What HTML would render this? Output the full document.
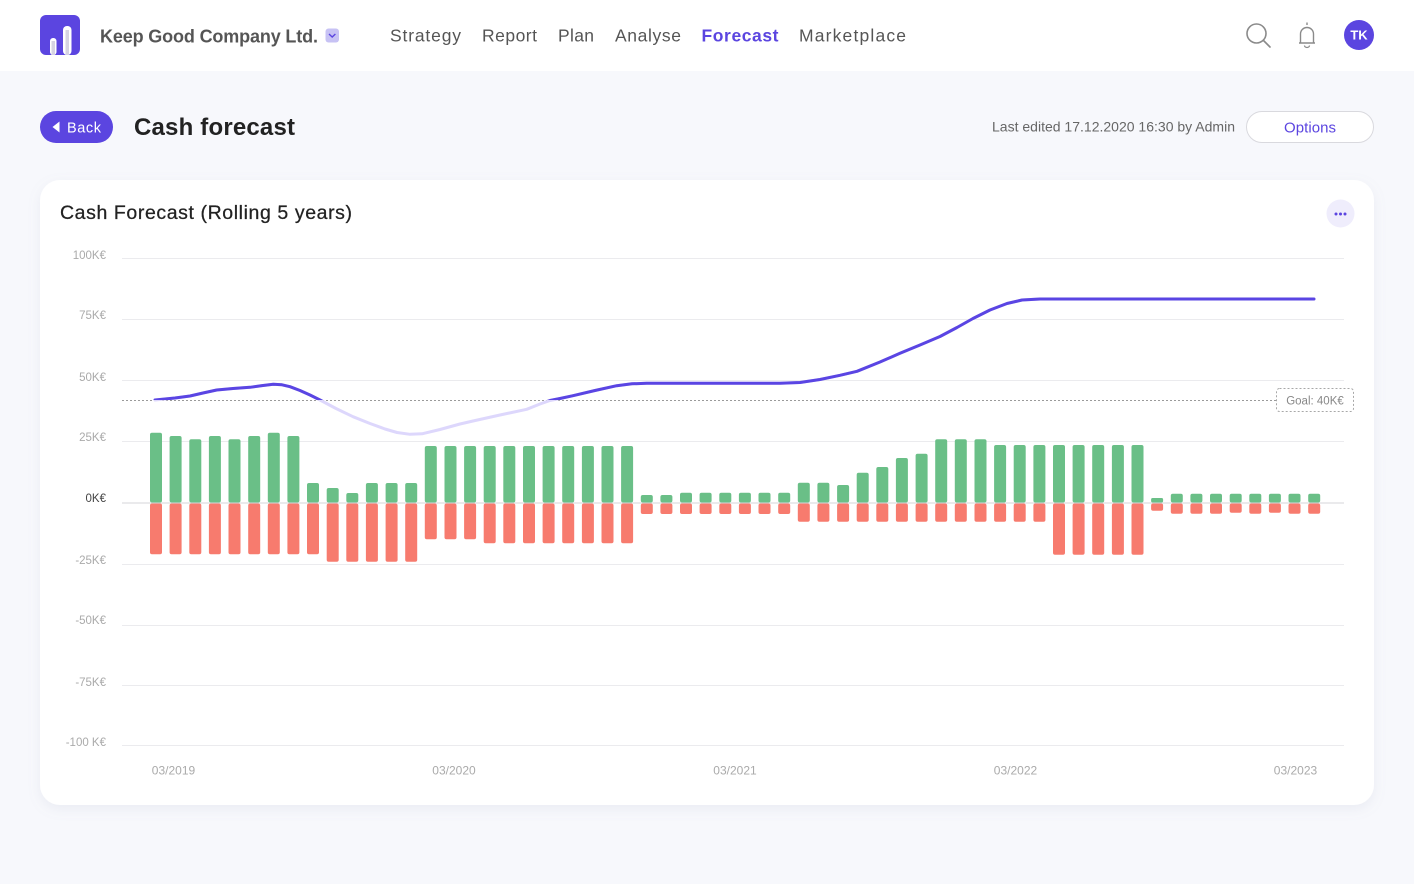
<!DOCTYPE html>
<html><head><meta charset="utf-8"><style>
html,body{margin:0;padding:0;width:1414px;height:884px;overflow:hidden;background:#f7f8fc;}
svg{display:block;font-family:"Liberation Sans",sans-serif;}
</style></head><body>
<svg width="1414" height="884" viewBox="0 0 1414 884" xmlns="http://www.w3.org/2000/svg">
<defs>
<filter id="sh" x="-5%" y="-5%" width="110%" height="115%"><feDropShadow dx="0" dy="4" stdDeviation="6" flood-color="#8a8fb5" flood-opacity="0.12"/></filter>
<clipPath id="above"><rect x="0" y="0" width="1414" height="400"/></clipPath>
</defs>
<rect x="0" y="0" width="1414" height="884" fill="#f7f8fc"/>
<rect x="0" y="0" width="1414" height="71" fill="#ffffff"/>
<rect x="40" y="15" width="40" height="40" rx="6" fill="#5b45e0"/>
<rect x="50" y="38" width="6.5" height="17" rx="3" fill="#ffffff"/>
<rect x="63" y="26" width="8.5" height="29" rx="4" fill="#ffffff"/>
<rect x="51.5" y="41" width="3.5" height="14" fill="#d6d4e2"/>
<rect x="65.5" y="30" width="3.5" height="25" fill="#d6d4e2"/>
<text x="100" y="42.3" font-size="18" font-weight="bold" fill="#555" textLength="218">Keep Good Company Ltd.</text>
<rect x="325.5" y="28.5" width="13.5" height="14" rx="3" fill="#c7c2f4"/>
<path d="M329 34 l3.2 3 l3.2 -3" fill="none" stroke="#5b45e0" stroke-width="1.4"/>
<g font-size="17.5" fill="#555">
<text x="390" y="41.5" textLength="71">Strategy</text>
<text x="482" y="41.5" textLength="55">Report</text>
<text x="558" y="41.5" textLength="36">Plan</text>
<text x="615" y="41.5" textLength="66">Analyse</text>
<text x="701.5" y="41.5" textLength="77" font-weight="bold" fill="#5b45e0">Forecast</text>
<text x="799" y="41.5" textLength="107">Marketplace</text>
</g>
<circle cx="1256.5" cy="33.5" r="9.5" fill="none" stroke="#8a8a8a" stroke-width="1.6"/>
<path d="M1263.5 40.5 L1270 47" stroke="#8a8a8a" stroke-width="1.6" stroke-linecap="round"/>
<path d="M1299 43 h16 M1300.5 43 v-9 a6.5 6.5 0 0 1 13 0 v9" fill="none" stroke="#8a8a8a" stroke-width="1.4"/>
<path d="M1307 22.5 v2.5" stroke="#8a8a8a" stroke-width="1.4"/>
<path d="M1304.5 45.5 a2.5 2 0 0 0 5 0" fill="none" stroke="#8a8a8a" stroke-width="1.3"/>
<circle cx="1359" cy="35" r="15" fill="#5b45e0"/>
<text x="1359" y="39.5" font-size="13" font-weight="bold" fill="#fff" text-anchor="middle">TK</text>
<rect x="40" y="111" width="73" height="32" rx="16" fill="#5b45e0"/>
<path d="M52.5 127 L59.5 121.5 V132.5 Z" fill="#fff"/>
<text x="67" y="132.7" font-size="14.5" fill="#fff" textLength="34">Back</text>
<text x="134" y="135" font-size="24" font-weight="bold" fill="#222" textLength="161">Cash forecast</text>
<text x="992" y="131.7" font-size="14" fill="#666" textLength="243">Last edited 17.12.2020 16:30 by Admin</text>
<rect x="1246.5" y="111.5" width="127" height="31" rx="15.5" fill="#fff" stroke="#d9d9de"/>
<text x="1284" y="132.3" font-size="15" fill="#5b45e0" textLength="52">Options</text>
<rect x="40" y="180" width="1334" height="625" rx="20" fill="#fff" filter="url(#sh)"/>
<text x="60" y="219" font-size="19.5" fill="#222" stroke="#222" stroke-width="0.25" textLength="292">Cash Forecast (Rolling 5 years)</text>
<circle cx="1340.5" cy="213.5" r="14" fill="#efedfc"/>
<circle cx="1336" cy="214" r="1.5" fill="#5b45e0"/>
<circle cx="1340.5" cy="214" r="1.5" fill="#5b45e0"/>
<circle cx="1345" cy="214" r="1.5" fill="#5b45e0"/>
<g stroke="#ebebee" stroke-width="1">
<line x1="122" y1="258.5" x2="1344" y2="258.5"/>
<line x1="122" y1="319.5" x2="1344" y2="319.5"/>
<line x1="122" y1="380.5" x2="1344" y2="380.5"/>
<line x1="122" y1="441.5" x2="1344" y2="441.5"/>
<line x1="122" y1="564.5" x2="1344" y2="564.5"/>
<line x1="122" y1="625.5" x2="1344" y2="625.5"/>
<line x1="122" y1="685.5" x2="1344" y2="685.5"/>
<line x1="122" y1="745.5" x2="1344" y2="745.5"/>
</g>
<g font-size="11.5" fill="#aaa" text-anchor="end">
<text x="106" y="259">100K€</text>
<text x="106" y="319">75K€</text>
<text x="106" y="381">50K€</text>
<text x="106" y="441">25K€</text>
<text x="106" y="502" fill="#444">0K€</text>
<text x="106" y="564">-25K€</text>
<text x="106" y="624">-50K€</text>
<text x="106" y="686">-75K€</text>
<text x="106" y="746">-100 K€</text>
</g>
<g font-size="12" fill="#aaa" text-anchor="middle">
<text x="173.5" y="774.5">03/2019</text>
<text x="454" y="774.5">03/2020</text>
<text x="735" y="774.5">03/2021</text>
<text x="1015.5" y="774.5">03/2022</text>
<text x="1295.5" y="774.5">03/2023</text>
</g>
<g fill="#6abf87">
<rect x="150" y="432.7" width="12" height="69.8" rx="2"/>
<rect x="169.6" y="436" width="12" height="66.5" rx="2"/>
<rect x="189.3" y="439.3" width="12" height="63.2" rx="2"/>
<rect x="208.9" y="436" width="12" height="66.5" rx="2"/>
<rect x="228.5" y="439.3" width="12" height="63.2" rx="2"/>
<rect x="248.2" y="436" width="12" height="66.5" rx="2"/>
<rect x="267.8" y="432.7" width="12" height="69.8" rx="2"/>
<rect x="287.4" y="436" width="12" height="66.5" rx="2"/>
<rect x="307" y="483" width="12" height="19.5" rx="2"/>
<rect x="326.7" y="488" width="12" height="14.5" rx="2"/>
<rect x="346.3" y="493" width="12" height="9.5" rx="2"/>
<rect x="365.9" y="483" width="12" height="19.5" rx="2"/>
<rect x="385.6" y="483" width="12" height="19.5" rx="2"/>
<rect x="405.2" y="483" width="12" height="19.5" rx="2"/>
<rect x="424.8" y="446" width="12" height="56.5" rx="2"/>
<rect x="444.5" y="446" width="12" height="56.5" rx="2"/>
<rect x="464.1" y="446" width="12" height="56.5" rx="2"/>
<rect x="483.7" y="446" width="12" height="56.5" rx="2"/>
<rect x="503.3" y="446" width="12" height="56.5" rx="2"/>
<rect x="523" y="446" width="12" height="56.5" rx="2"/>
<rect x="542.6" y="446" width="12" height="56.5" rx="2"/>
<rect x="562.2" y="446" width="12" height="56.5" rx="2"/>
<rect x="581.9" y="446" width="12" height="56.5" rx="2"/>
<rect x="601.5" y="446" width="12" height="56.5" rx="2"/>
<rect x="621.1" y="446" width="12" height="56.5" rx="2"/>
<rect x="640.8" y="495" width="12" height="7.5" rx="2"/>
<rect x="660.4" y="495" width="12" height="7.5" rx="2"/>
<rect x="680" y="492.7" width="12" height="9.8" rx="2"/>
<rect x="699.6" y="492.7" width="12" height="9.8" rx="2"/>
<rect x="719.3" y="492.7" width="12" height="9.8" rx="2"/>
<rect x="738.9" y="492.7" width="12" height="9.8" rx="2"/>
<rect x="758.5" y="492.7" width="12" height="9.8" rx="2"/>
<rect x="778.2" y="492.7" width="12" height="9.8" rx="2"/>
<rect x="797.8" y="482.7" width="12" height="19.8" rx="2"/>
<rect x="817.4" y="482.7" width="12" height="19.8" rx="2"/>
<rect x="837.1" y="485" width="12" height="17.5" rx="2"/>
<rect x="856.7" y="472.7" width="12" height="29.8" rx="2"/>
<rect x="876.3" y="467" width="12" height="35.5" rx="2"/>
<rect x="895.9" y="458" width="12" height="44.5" rx="2"/>
<rect x="915.6" y="453.7" width="12" height="48.8" rx="2"/>
<rect x="935.2" y="439.3" width="12" height="63.2" rx="2"/>
<rect x="954.8" y="439.3" width="12" height="63.2" rx="2"/>
<rect x="974.5" y="439.3" width="12" height="63.2" rx="2"/>
<rect x="994.1" y="445" width="12" height="57.5" rx="2"/>
<rect x="1013.7" y="445" width="12" height="57.5" rx="2"/>
<rect x="1033.4" y="445" width="12" height="57.5" rx="2"/>
<rect x="1053" y="445" width="12" height="57.5" rx="2"/>
<rect x="1072.6" y="445" width="12" height="57.5" rx="2"/>
<rect x="1092.2" y="445" width="12" height="57.5" rx="2"/>
<rect x="1111.9" y="445" width="12" height="57.5" rx="2"/>
<rect x="1131.5" y="445" width="12" height="57.5" rx="2"/>
<rect x="1151.1" y="498" width="12" height="4.5" rx="1.5"/>
<rect x="1170.8" y="493.7" width="12" height="8.8" rx="2"/>
<rect x="1190.4" y="493.7" width="12" height="8.8" rx="2"/>
<rect x="1210" y="493.7" width="12" height="8.8" rx="2"/>
<rect x="1229.7" y="493.7" width="12" height="8.8" rx="2"/>
<rect x="1249.3" y="493.7" width="12" height="8.8" rx="2"/>
<rect x="1268.9" y="493.7" width="12" height="8.8" rx="2"/>
<rect x="1288.5" y="493.7" width="12" height="8.8" rx="2"/>
<rect x="1308.2" y="493.7" width="12" height="8.8" rx="2"/>
</g>
<g fill="#f77b6e">
<rect x="150" y="503.5" width="12" height="50.8" rx="2"/>
<rect x="169.6" y="503.5" width="12" height="50.8" rx="2"/>
<rect x="189.3" y="503.5" width="12" height="50.8" rx="2"/>
<rect x="208.9" y="503.5" width="12" height="50.8" rx="2"/>
<rect x="228.5" y="503.5" width="12" height="50.8" rx="2"/>
<rect x="248.2" y="503.5" width="12" height="50.8" rx="2"/>
<rect x="267.8" y="503.5" width="12" height="50.8" rx="2"/>
<rect x="287.4" y="503.5" width="12" height="50.8" rx="2"/>
<rect x="307" y="503.5" width="12" height="50.8" rx="2"/>
<rect x="326.7" y="503.5" width="12" height="58.2" rx="2"/>
<rect x="346.3" y="503.5" width="12" height="58.2" rx="2"/>
<rect x="365.9" y="503.5" width="12" height="58.2" rx="2"/>
<rect x="385.6" y="503.5" width="12" height="58.2" rx="2"/>
<rect x="405.2" y="503.5" width="12" height="58.2" rx="2"/>
<rect x="424.8" y="503.5" width="12" height="35.8" rx="2"/>
<rect x="444.5" y="503.5" width="12" height="35.8" rx="2"/>
<rect x="464.1" y="503.5" width="12" height="35.8" rx="2"/>
<rect x="483.7" y="503.5" width="12" height="39.8" rx="2"/>
<rect x="503.3" y="503.5" width="12" height="39.8" rx="2"/>
<rect x="523" y="503.5" width="12" height="39.8" rx="2"/>
<rect x="542.6" y="503.5" width="12" height="39.8" rx="2"/>
<rect x="562.2" y="503.5" width="12" height="39.8" rx="2"/>
<rect x="581.9" y="503.5" width="12" height="39.8" rx="2"/>
<rect x="601.5" y="503.5" width="12" height="39.8" rx="2"/>
<rect x="621.1" y="503.5" width="12" height="39.8" rx="2"/>
<rect x="640.8" y="503.5" width="12" height="10.5" rx="2"/>
<rect x="660.4" y="503.5" width="12" height="10.5" rx="2"/>
<rect x="680" y="503.5" width="12" height="10.5" rx="2"/>
<rect x="699.6" y="503.5" width="12" height="10.5" rx="2"/>
<rect x="719.3" y="503.5" width="12" height="10.5" rx="2"/>
<rect x="738.9" y="503.5" width="12" height="10.5" rx="2"/>
<rect x="758.5" y="503.5" width="12" height="10.5" rx="2"/>
<rect x="778.2" y="503.5" width="12" height="10.5" rx="2"/>
<rect x="797.8" y="503.5" width="12" height="18.2" rx="2"/>
<rect x="817.4" y="503.5" width="12" height="18.2" rx="2"/>
<rect x="837.1" y="503.5" width="12" height="18.2" rx="2"/>
<rect x="856.7" y="503.5" width="12" height="18.2" rx="2"/>
<rect x="876.3" y="503.5" width="12" height="18.2" rx="2"/>
<rect x="895.9" y="503.5" width="12" height="18.2" rx="2"/>
<rect x="915.6" y="503.5" width="12" height="18.2" rx="2"/>
<rect x="935.2" y="503.5" width="12" height="18.2" rx="2"/>
<rect x="954.8" y="503.5" width="12" height="18.2" rx="2"/>
<rect x="974.5" y="503.5" width="12" height="18.2" rx="2"/>
<rect x="994.1" y="503.5" width="12" height="18.2" rx="2"/>
<rect x="1013.7" y="503.5" width="12" height="18.2" rx="2"/>
<rect x="1033.4" y="503.5" width="12" height="18.2" rx="2"/>
<rect x="1053" y="503.5" width="12" height="51.2" rx="2"/>
<rect x="1072.6" y="503.5" width="12" height="51.2" rx="2"/>
<rect x="1092.2" y="503.5" width="12" height="51.2" rx="2"/>
<rect x="1111.9" y="503.5" width="12" height="51.2" rx="2"/>
<rect x="1131.5" y="503.5" width="12" height="51.2" rx="2"/>
<rect x="1151.1" y="503.5" width="12" height="7.2" rx="2"/>
<rect x="1170.8" y="503.5" width="12" height="10.2" rx="2"/>
<rect x="1190.4" y="503.5" width="12" height="10.2" rx="2"/>
<rect x="1210" y="503.5" width="12" height="10.2" rx="2"/>
<rect x="1229.7" y="503.5" width="12" height="9.2" rx="2"/>
<rect x="1249.3" y="503.5" width="12" height="10.2" rx="2"/>
<rect x="1268.9" y="503.5" width="12" height="9.2" rx="2"/>
<rect x="1288.5" y="503.5" width="12" height="10.2" rx="2"/>
<rect x="1308.2" y="503.5" width="12" height="10.2" rx="2"/>
</g>
<line x1="122" y1="503" x2="1344" y2="503" stroke="#d6d6da" stroke-width="1"/>
<line x1="122" y1="400.5" x2="1276" y2="400.5" stroke="#9a9a9a" stroke-width="1" stroke-dasharray="2,2"/>
<rect x="1276.5" y="388.5" width="77" height="23" rx="3" fill="#fff" stroke="#a8a8a8" stroke-dasharray="2,2"/>
<text x="1315" y="404.5" font-size="11.5" fill="#888" text-anchor="middle">Goal: 40K€</text>
<polyline fill="none" stroke="#ddd7fc" stroke-width="3" stroke-linejoin="round" stroke-linecap="round" points="155,400 175,398 190,396 203,393 216.7,390 233,388.5 250,387.3 262,385.6 273.3,384.3 282,384.8 290,386.7 300,390.5 310,395 320,400 336,408.5 353,416.7 370,423.5 385,429 397,432.5 410,434.3 422,433.8 440,429.5 460,424 473,421 500,415 526.7,409.3 540,404 550,400.5 560,398.5 573,395.7 595,390.5 616.7,385.7 632,383.8 646.7,383.3 780,383.3 800,382.5 820,379.5 840,375.3 857,371.3 880,362 900,353.3 920,345 940,336.5 957,327.5 973,318.5 990,310 1007,303.5 1022,300 1040,299 1314,299"/>
<polyline clip-path="url(#above)" fill="none" stroke="#5a45e3" stroke-width="3" stroke-linejoin="round" stroke-linecap="round" points="155,400 175,398 190,396 203,393 216.7,390 233,388.5 250,387.3 262,385.6 273.3,384.3 282,384.8 290,386.7 300,390.5 310,395 320,400 336,408.5 353,416.7 370,423.5 385,429 397,432.5 410,434.3 422,433.8 440,429.5 460,424 473,421 500,415 526.7,409.3 540,404 550,400.5 560,398.5 573,395.7 595,390.5 616.7,385.7 632,383.8 646.7,383.3 780,383.3 800,382.5 820,379.5 840,375.3 857,371.3 880,362 900,353.3 920,345 940,336.5 957,327.5 973,318.5 990,310 1007,303.5 1022,300 1040,299 1314,299"/>
</svg>
</body></html>
